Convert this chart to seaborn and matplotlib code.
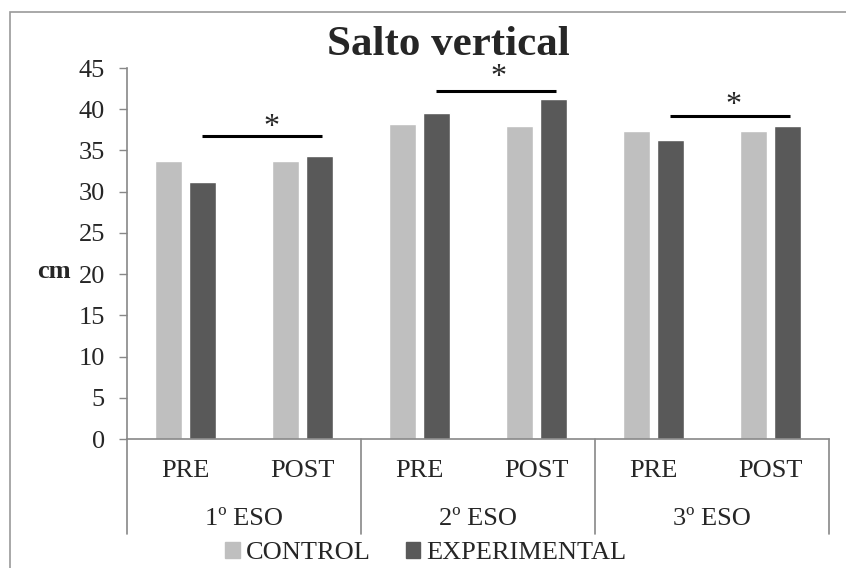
import matplotlib
matplotlib.use("Agg")
import matplotlib.pyplot as plt
import matplotlib.patches as mpatches
import matplotlib.transforms as mtransforms
import seaborn as sns
import pandas as pd

# ---- data ----
courses = ["1º ESO", "2º ESO", "3º ESO"]
moments = ["PRE", "POST"]
series = ["CONTROL", "EXPERIMENTAL"]
control = [33.7, 33.7, 38.2, 38.0, 37.4, 37.3]
experimental = [31.2, 34.3, 39.6, 41.3, 36.3, 38.0]
y_ticks = [0, 5, 10, 15, 20, 25, 30, 35, 40, 45]
sig_heights = [36.8, 42.2, 39.2]
star_heights = [37.8, 43.8, 40.4]
star_shift = [0.08, 0.02, 0.03]
title = "Salto vertical"
y_label = "cm"

sns.set_theme(style="white")
plt.rcParams["font.family"] = ["Liberation Serif", "DejaVu Serif"]

cats = [f"{c}|{m}" for c in courses for m in moments]
rows = []
for i, cat in enumerate(cats):
    rows.append({"cat": cat, "group": series[0], "value": control[i]})
    rows.append({"cat": cat, "group": series[1], "value": experimental[i]})
df = pd.DataFrame(rows)

colors = ["#BFBFBF", "#595959"]
fig = plt.figure(figsize=(8.46, 5.68), dpi=100)
ax = fig.add_axes([127 / 846, 1 - 439 / 568, (829 - 127) / 846, (439 - 68) / 568])

sns.barplot(data=df, x="cat", y="value", hue="group", order=cats,
            hue_order=series, palette=colors, width=0.58, gap=0.22,
            saturation=1, legend=False, errorbar=None, ax=ax)

ax.set_xlim(-0.5, len(cats) - 0.5)
ax.set_ylim(0, 45)
ax.set_yticks(y_ticks)
ax.set_yticklabels([str(t) for t in y_ticks], fontsize=19)
ax.tick_params(axis="y", length=6, width=1, color="#888888", pad=10, left=True)
ax.set_xticks([])
ax.set_xlabel("")
ax.set_ylabel("")
for s in ["top", "right"]:
    ax.spines[s].set_visible(False)
for s in ["left", "bottom"]:
    ax.spines[s].set_color("#888888")
    ax.spines[s].set_linewidth(1.2)

trans = mtransforms.blended_transform_factory(ax.transData, ax.transAxes)
# level-1 labels
for i, cat in enumerate(cats):
    ax.text(i, -0.086, cat.split("|")[1], transform=trans, ha="center",
            va="center", fontsize=19)
# level-2 labels
for j, c in enumerate(courses):
    ax.text(2 * j + 0.5, -0.2156, c, transform=trans, ha="center",
            va="center", fontsize=19)
# dividers
for x in [-0.5, 1.5, 3.5, 5.5]:
    ax.plot([x, x], [0, -0.256], transform=trans, color="#888888", lw=1.2,
            clip_on=False)

# significance bars
for j, h in enumerate(sig_heights):
    x0 = 2 * j + 0.14
    x1 = 2 * j + 1.17
    ax.plot([x0, x1], [h, h], color="black", lw=2.2, solid_capstyle="butt")
    ax.text((x0 + x1) / 2 + star_shift[j], star_heights[j], "*", ha="center",
            va="center", fontsize=23)

# y label and title
fig.text(54 / 846, 1 - 272 / 568, y_label, ha="center", va="center",
         fontsize=19, fontweight="bold")
fig.text(448 / 846, 1 - 55 / 568, title, ha="center", va="baseline",
         fontsize=31, fontweight="bold")

# legend
handles = [mpatches.Patch(color=colors[k], label=series[k]) for k in range(2)]
fig.legend(handles=handles, loc="center", bbox_to_anchor=(426 / 846, 1 - 553 / 568),
           ncol=2, frameon=False, fontsize=19, handlelength=0.55,
           handleheight=0.55, handletextpad=0.25, columnspacing=1.3,
           borderpad=0, borderaxespad=0)

# outer chart border
fig.add_artist(mpatches.Rectangle((10 / 846, -0.1), 1.2, 1.1 - 12 / 568,
                                  transform=fig.transFigure, fill=False,
                                  edgecolor="#9a9a9a", lw=1.2))

fig.savefig("out.png", dpi=100)
